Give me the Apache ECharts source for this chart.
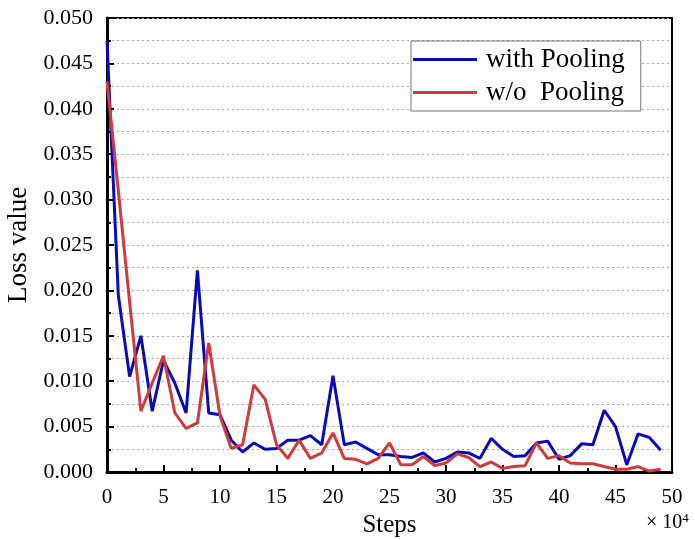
<!DOCTYPE html>
<html>
<head>
<meta charset="utf-8">
<style>
  html, body { margin: 0; padding: 0; background: #fff; }
  #chart { width: 695px; height: 540px; }
</style>
<script src="https://cdn.jsdelivr.net/npm/echarts@6/dist/echarts.min.js"></script>
</head>
<body>
<div id="chart"></div>
<script>
// steps (x 10^4)
var steps = []
for (var s = 0; s < 50; s++) steps.push(s)

var withPooling = [
  0.0475, 0.0195, 0.0105, 0.0150, 0.0067, 0.0123, 0.0098, 0.0065, 0.0222, 0.0065,
  0.0063, 0.0035, 0.0022, 0.0032, 0.0025, 0.0026, 0.0035, 0.0035, 0.0040, 0.0030,
  0.0106, 0.0030, 0.0033, 0.0026, 0.0019, 0.0019, 0.0017, 0.0016, 0.0021, 0.0011,
  0.0015, 0.0022, 0.0021, 0.0015, 0.0037, 0.0025, 0.0017, 0.0018, 0.0032, 0.0034,
  0.0014, 0.0018, 0.0031, 0.0030, 0.0068, 0.0050, 0.0008, 0.0042, 0.0038, 0.0024
]
var withoutPooling = [
  0.0430, 0.0310, 0.0187, 0.0067, 0.0098, 0.0128, 0.0065, 0.0048, 0.0054, 0.0142,
  0.0062, 0.0026, 0.0030, 0.0096, 0.0080, 0.0030, 0.0015, 0.0035, 0.0015, 0.0021,
  0.0043, 0.0015, 0.0014, 0.0009, 0.0015, 0.0032, 0.0008, 0.0008, 0.0017, 0.0007,
  0.0010, 0.0020, 0.0016, 0.0006, 0.0011, 0.0004, 0.0006, 0.0007, 0.0032, 0.0015,
  0.0018, 0.0010, 0.0009, 0.0009, 0.0006, 0.0003, 0.0003, 0.0006, 0.0001, 0.0003
]
var seriesNames = ['with Pooling', 'w/o  Pooling']

function pairs (ys) {
  return steps.map(function (x, i) { return [x, ys[i]] })
}

var font = '"Liberation Serif", "Times New Roman", serif'
var chart = echarts.init(document.getElementById('chart'))

var option = {
  animation: false,
  backgroundColor: '#fff',
  textStyle: { fontFamily: font, color: '#000' },
  grid: {
    left: 107, right: 23, top: 18, bottom: 68,
    outerBoundsMode: 'none',
    containLabel: false,
    show: true, borderColor: '#000', borderWidth: 2
  },
  legend: {
    data: seriesNames,
    orient: 'vertical',
    left: 411, top: 41,
    padding: [5, 16, 5, 2],
    itemGap: 6,
    itemWidth: 64,
    itemHeight: 3,
    icon: 'rect',
    borderColor: '#777',
    borderWidth: 1,
    backgroundColor: '#fff',
    textStyle: { fontFamily: font, fontSize: 27, color: '#000', padding: [0, 0, 0, 4] }
  },
  xAxis: {
    type: 'value',
    min: 0, max: 50, interval: 5,
    name: 'Steps',
    nameLocation: 'middle',
    nameGap: 40,
    nameTextStyle: { fontFamily: font, fontSize: 25, color: '#000' },
    axisLine: { lineStyle: { color: '#000', width: 3 } },
    axisTick: { inside: true, length: 7, lineStyle: { color: '#000', width: 2 } },
    minorTick: { show: true, splitNumber: 2, length: 4, lineStyle: { color: '#000', width: 2 } },
    axisLabel: { fontFamily: font, fontSize: 21, color: '#000', margin: 15 },
    splitLine: { show: false }
  },
  yAxis: {
    type: 'value',
    min: 0, max: 0.05, interval: 0.005,
    name: 'Loss value',
    nameLocation: 'middle',
    nameGap: 73,
    nameTextStyle: { fontFamily: font, fontSize: 27, color: '#000' },
    axisLine: { lineStyle: { color: '#000', width: 3 } },
    axisTick: { inside: true, length: 7, lineStyle: { color: '#000', width: 2 } },
    minorTick: { show: true, splitNumber: 2, length: 4, lineStyle: { color: '#000', width: 2 } },
    axisLabel: {
      fontFamily: font, fontSize: 22, color: '#000', margin: 14,
      formatter: function (v) { return v.toFixed(3) }
    },
    splitLine: { show: true, lineStyle: { color: '#aaa', type: [2, 3], width: 1 } },
    minorSplitLine: { show: true, lineStyle: { color: '#aaa', type: [2, 3], width: 1 } }
  },
  graphic: [{
    type: 'text',
    left: 646, top: 512,
    style: {
      text: '× 10{s|4}',
      rich: { s: { fontSize: 13, verticalAlign: 'top', padding: [0, 0, 9, 0], fontFamily: font } },
      font: '20px ' + font,
      fill: '#000'
    }
  }],
  series: [
    {
      name: seriesNames[0],
      type: 'line',
      data: pairs(withPooling),
      showSymbol: false,
      color: '#0a0ab8',
      lineStyle: { width: 3 },
      z: 3
    },
    {
      name: seriesNames[1],
      type: 'line',
      data: pairs(withoutPooling),
      showSymbol: false,
      color: '#d03a3c',
      lineStyle: { width: 3 },
      z: 4
    }
  ]
}
chart.setOption(option)
</script>
</body>
</html>
